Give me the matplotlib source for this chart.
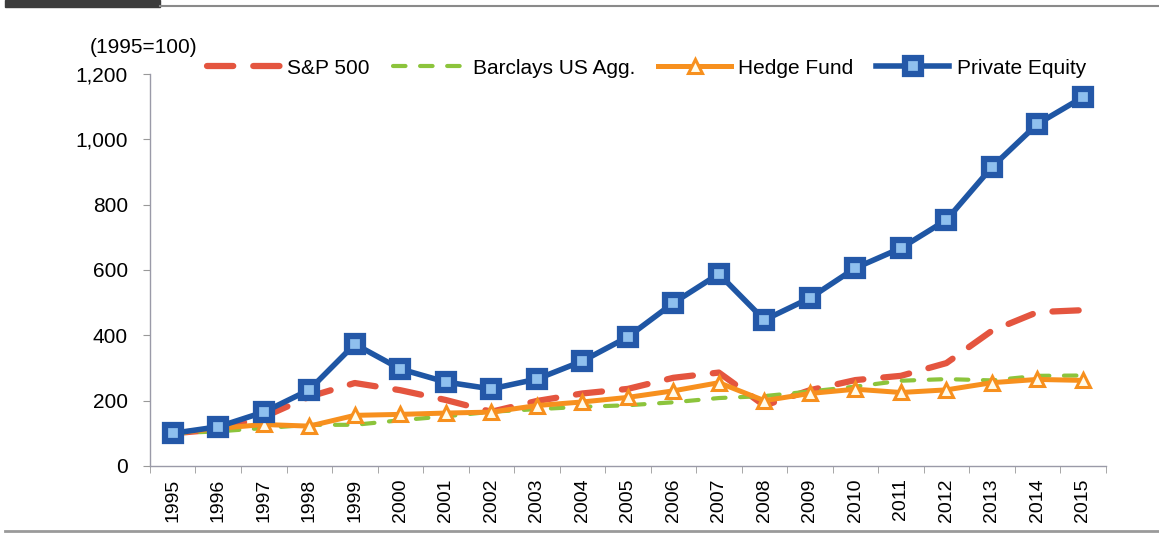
import numpy as np
import matplotlib.pyplot as plt
from matplotlib.patches import Rectangle
from matplotlib.lines import Line2D
from matplotlib.ticker import FuncFormatter

years = [str(y) for y in range(1995, 2016)]
sp500 = [100, 112, 150, 212, 254, 232, 202, 166, 199, 222, 236, 270, 286, 185, 232, 263, 276, 315, 414, 471, 477]
barclays = [100, 106, 116, 126, 126, 140, 152, 166, 174, 181, 186, 195, 208, 214, 228, 243, 261, 266, 262, 276, 277]
hedge = [100, 115, 127, 122, 155, 158, 162, 165, 185, 196, 210, 230, 255, 200, 222, 235, 225, 233, 255, 265, 262]
private_eq = [100, 120, 165, 233, 373, 297, 257, 236, 266, 321, 395, 499, 588, 447, 514, 606, 667, 753, 915, 1047, 1129]

plt.rcParams['font.family'] = ['Liberation Sans', 'DejaVu Sans']

fig = plt.figure(figsize=(11.59, 5.35), dpi=100)
ax = fig.add_axes([0.1294, 0.129, 0.8246, 0.7327])

x = np.arange(len(years))

ax.plot(x, sp500, color='#e4553f', lw=4.5, dashes=(4.2, 3.2),
        dash_capstyle='round', label='S&P 500', zorder=2)
ax.plot(x, barclays, color='#8cc43c', lw=3, dashes=(3, 3.5), dash_capstyle='round',
        label='Barclays US Agg.', zorder=2)
ax.plot(x, hedge, color='#f7901e', lw=3.6, marker='^', markersize=10,
        markerfacecolor='#fffbea', markeredgecolor='#f7901e', markeredgewidth=2.2,
        label='Hedge Fund', zorder=3)
ax.plot(x, private_eq, color='#1f56a4', lw=4, marker='s', markersize=12,
        markerfacecolor='#8fc0ee', markeredgecolor='#2458a8', markeredgewidth=4.5,
        label='Private Equity', zorder=4)

ax.set_xlim(-0.5, len(years) - 0.5)
ax.set_ylim(0, 1200)
ax.set_yticks(range(0, 1201, 200))
ax.yaxis.set_major_formatter(FuncFormatter(lambda v, p: f'{int(v):,}'))
ax.set_xticks(x)
ax.set_xticklabels(years, rotation=90)
ax.set_xticks(np.arange(-0.5, len(years)), minor=True)
ax.tick_params(axis='x', which='major', length=0, pad=9, labelsize=14)
ax.tick_params(axis='x', which='minor', length=5, color='#999999', direction='out')
ax.tick_params(axis='y', length=5, color='#999999', labelsize=15, pad=11)

for s in ['top', 'right']:
    ax.spines[s].set_visible(False)
for s in ['left', 'bottom']:
    ax.spines[s].set_color('#9a9aa8')
    ax.spines[s].set_linewidth(1)

ax.text(-0.0628, 1.043, '(1995=100)', transform=ax.transAxes, fontsize=15,
        ha='left', va='bottom')

ax.legend(loc='center left', bbox_to_anchor=(0.040, 1.015), ncol=4, frameon=False,
          fontsize=15, handlelength=3.5, columnspacing=1.1, handletextpad=0.35)

# decorative page rules
fig.add_artist(Rectangle((5 / 1159, 1 - 7 / 535), 155 / 1159, 7 / 535,
                         transform=fig.transFigure, color='#3c3c3c'))
fig.add_artist(Line2D([160 / 1159, 1], [1 - 6 / 535] * 2, transform=fig.transFigure,
                      color='#8a8a8a', lw=1.5))
fig.add_artist(Line2D([5 / 1159, 1], [1 - 531 / 535] * 2, transform=fig.transFigure,
                      color='#9a9a9a', lw=2))

fig.savefig('out.png', dpi=100)
